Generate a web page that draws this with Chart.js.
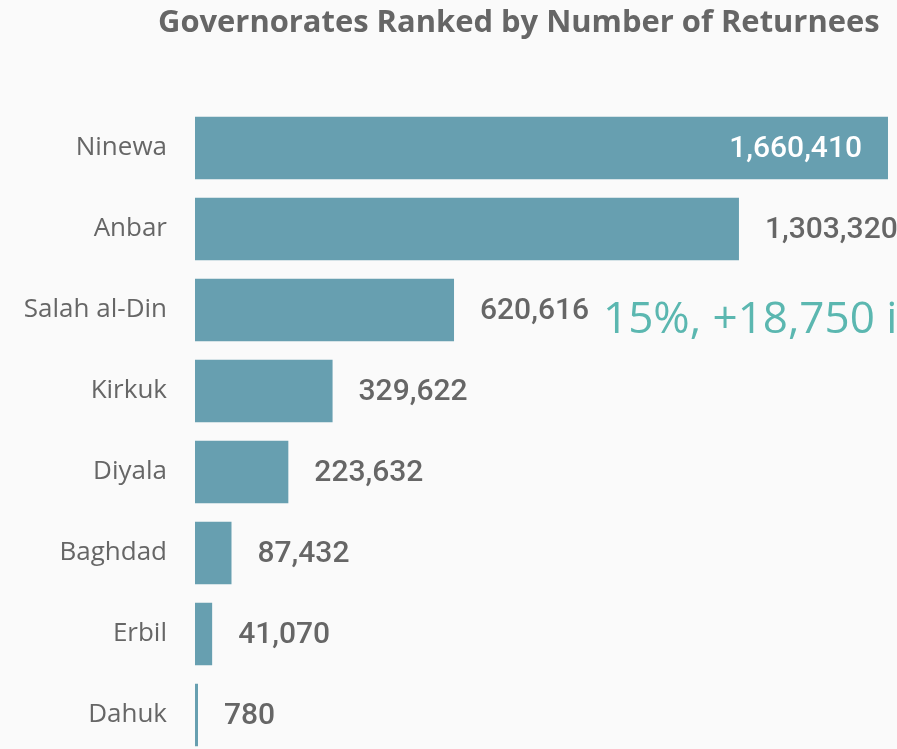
<!DOCTYPE html>
<html>
<head>
<meta charset="utf-8">
<script src="https://cdn.jsdelivr.net/npm/chart.js@4"></script>
<style>
  html, body { margin: 0; padding: 0; background: #fafafa; overflow: hidden; }
  canvas { display: block; }
</style>
</head>
<body>
<canvas id="myChart-bar" width="897" height="760"></canvas>
<script>
var governorates = ['Ninewa', 'Anbar', 'Salah al-Din', 'Kirkuk', 'Diyala', 'Baghdad', 'Erbil', 'Dahuk'];
var returnees = [1660410, 1303320, 620616, 329622, 223632, 87432, 41070, 780];
var chartTitle = 'Governorates Ranked by Number of Returnees';
var overlayText = '15%, +18,750 i';

var barColor = '#679fb0';
var textGrey = '#666666';

// title, value labels and the stray overlay text, drawn on the canvas
var textPlugin = {
    id: 'textPlugin',
    afterDraw: function (chart) {
        var c = chart.ctx;
        c.save();
        var size = 30;
        c.font = 'bold ' + size + 'px "Open Sans"';
        var w = c.measureText(chartTitle).width;
        size = size * 722 / w;
        c.font = 'bold ' + size + 'px "Open Sans"';
        c.fillStyle = textGrey;
        c.textBaseline = 'middle';
        c.textAlign = 'left';
        c.fillText(chartTitle, 158, 23);

        var meta = chart.getDatasetMeta(0);
        c.font = '500 30px "Roboto"';
        meta.data.forEach(function (bar, i) {
            var label = returnees[i].toLocaleString('en-US');
            var gap = 26;
            if (bar.x + gap < chart.width) {
                c.fillStyle = textGrey;
                c.textAlign = 'left';
                c.fillText(label, bar.x + gap, bar.y + 1);
            } else {
                c.fillStyle = '#ffffff';
                c.textAlign = 'right';
                c.fillText(label, bar.x - gap, bar.y + 1);
            }
        });

        var salah = meta.data[2];
        c.font = '44px "Open Sans"';
        c.fillStyle = '#5bb7b0';
        c.textAlign = 'left';
        c.fillText(overlayText, 603, salah.y + 10);
        c.restore();
    }
};

var ctx = document.getElementById('myChart-bar');

new Chart(ctx, {
    type: 'bar',
    data: {
        labels: governorates,
        datasets: [{
            data: returnees,
            backgroundColor: barColor,
            categoryPercentage: 1,
            barPercentage: 0.77,
            minBarLength: 3
        }]
    },
    options: {
        indexAxis: 'y',
        responsive: false,
        animation: false,
        layout: { padding: { top: 107.5, bottom: 4.5, left: 0, right: 0 } },
        plugins: {
            legend: { display: false },
            tooltip: { enabled: false }
        },
        scales: {
            x: {
                display: false,
                min: 0,
                max: 1682000
            },
            y: {
                grid: { display: false, drawTicks: false },
                border: { display: false },
                ticks: {
                    color: textGrey,
                    padding: 28,
                    font: { family: '"Open Sans"', size: 26 }
                },
                afterFit: function (scale) {
                    scale.width = 195;
                    scale.paddingTop = 0;
                    scale.paddingBottom = 0;
                }
            }
        }
    },
    plugins: [textPlugin]
});
</script>
</body>
</html>
